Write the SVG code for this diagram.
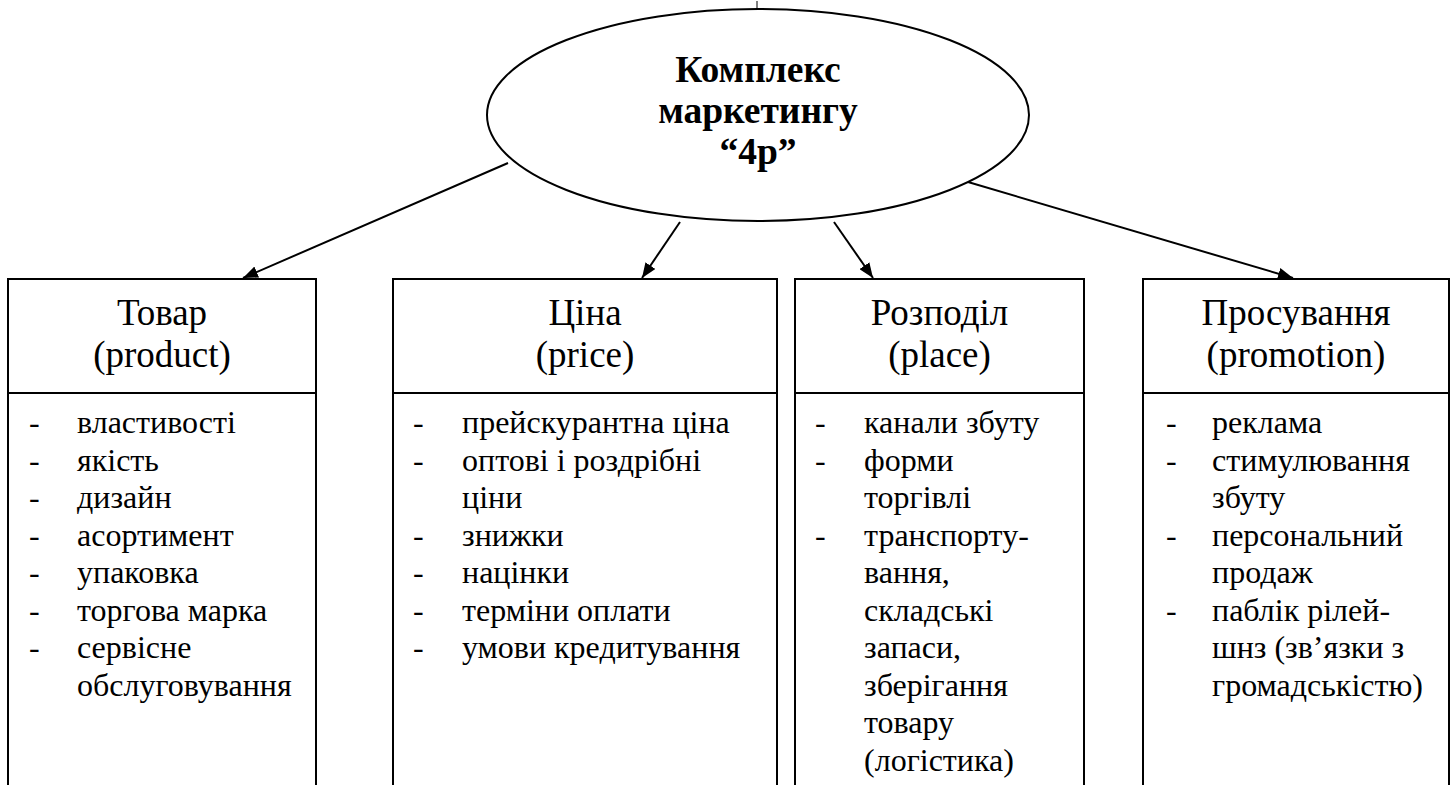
<svg xmlns="http://www.w3.org/2000/svg" width="1454" height="785" viewBox="0 0 1454 785">
<style>
.bx{fill:none;stroke:#000;stroke-width:2}
.hd{font-family:"Liberation Serif","Times New Roman",serif;font-size:37px;text-anchor:middle;fill:#000}
.li{font-family:"Liberation Serif","Times New Roman",serif;font-size:32px;fill:#000}
.ti{font-family:"Liberation Serif","Times New Roman",serif;font-size:37.5px;font-weight:bold;text-anchor:middle;fill:#000}
.cn{stroke:#000;stroke-width:2;fill:none;marker-end:url(#ah)}
</style>
<defs>
<marker id="ah" markerUnits="userSpaceOnUse" markerWidth="16" markerHeight="12" refX="15" refY="6" orient="auto">
<path d="M0,0 L15,6 L0,12 z" fill="#000"/>
</marker>
</defs>
<rect width="1454" height="785" fill="#fff"/>
<g id="center">
<ellipse cx="758" cy="115" rx="271" ry="106" fill="none" stroke="#000" stroke-width="2"/>
<line x1="757" y1="1" x2="757" y2="10" stroke="#000" stroke-width="1"/>
<text class="ti" x="758" y="82">Комплекс</text>
<text class="ti" x="758" y="123">маркетингу</text>
<text class="ti" x="758" y="164">“4p”</text>
</g>
<g id="connectors">
<line class="cn" x1="508" y1="163" x2="243" y2="278"/>
<line class="cn" x1="680" y1="222" x2="642" y2="278"/>
<line class="cn" x1="834" y1="222" x2="873" y2="278"/>
<line class="cn" x1="968" y1="182" x2="1293" y2="278"/>
</g>
<g id="product">
<path class="bx" d="M8,790 V279 H316 V790 M8,393 H316"/>
<text class="hd" x="162" y="325">Товар</text>
<text class="hd" x="162" y="367">(product)</text>
<g class="li">
<text x="29" y="433">-</text><text x="77" y="433">властивості</text>
<text x="29" y="470.5">-</text><text x="77" y="470.5">якість</text>
<text x="29" y="508">-</text><text x="77" y="508">дизайн</text>
<text x="29" y="545.5">-</text><text x="77" y="545.5">асортимент</text>
<text x="29" y="583">-</text><text x="77" y="583">упаковка</text>
<text x="29" y="620.5">-</text><text x="77" y="620.5">торгова марка</text>
<text x="29" y="658">-</text><text x="77" y="658">сервісне</text>
<text x="77" y="695.5">обслуговування</text>
</g>
</g>
<g id="price">
<path class="bx" d="M393,790 V279 H777 V790 M393,393 H777"/>
<text class="hd" x="585" y="325">Ціна</text>
<text class="hd" x="585" y="367">(price)</text>
<g class="li">
<text x="413" y="433">-</text><text x="462" y="433">прейскурантна ціна</text>
<text x="413" y="470.5">-</text><text x="462" y="470.5">оптові і роздрібні</text>
<text x="462" y="508">ціни</text>
<text x="413" y="545.5">-</text><text x="462" y="545.5">знижки</text>
<text x="413" y="583">-</text><text x="462" y="583">націнки</text>
<text x="413" y="620.5">-</text><text x="462" y="620.5">терміни оплати</text>
<text x="413" y="658">-</text><text x="462" y="658">умови кредитування</text>
</g>
</g>
<g id="place">
<path class="bx" d="M795,790 V279 H1084 V790 M795,393 H1084"/>
<text class="hd" x="939.5" y="325">Розподіл</text>
<text class="hd" x="939.5" y="367">(place)</text>
<g class="li">
<text x="815" y="433">-</text><text x="864" y="433">канали збуту</text>
<text x="815" y="470.5">-</text><text x="864" y="470.5">форми</text>
<text x="864" y="508">торгівлі</text>
<text x="815" y="545.5">-</text><text x="864" y="545.5">транспорту-</text>
<text x="864" y="583">вання,</text>
<text x="864" y="620.5">складські</text>
<text x="864" y="658">запаси,</text>
<text x="864" y="695.5">зберігання</text>
<text x="864" y="733">товару</text>
<text x="864" y="770.5">(логістика)</text>
</g>
</g>
<g id="promotion">
<path class="bx" d="M1143,790 V279 H1449 V790 M1143,393 H1449"/>
<text class="hd" x="1296" y="325">Просування</text>
<text class="hd" x="1296" y="367">(promotion)</text>
<g class="li">
<text x="1166" y="433">-</text><text x="1212" y="433">реклама</text>
<text x="1166" y="470.5">-</text><text x="1212" y="470.5">стимулювання</text>
<text x="1212" y="508">збуту</text>
<text x="1166" y="545.5">-</text><text x="1212" y="545.5">персональний</text>
<text x="1212" y="583">продаж</text>
<text x="1166" y="620.5">-</text><text x="1212" y="620.5">паблік рілей-</text>
<text x="1212" y="658">шнз (зв’язки з</text>
<text x="1212" y="695.5">громадськістю)</text>
</g>
</g>
</svg>
